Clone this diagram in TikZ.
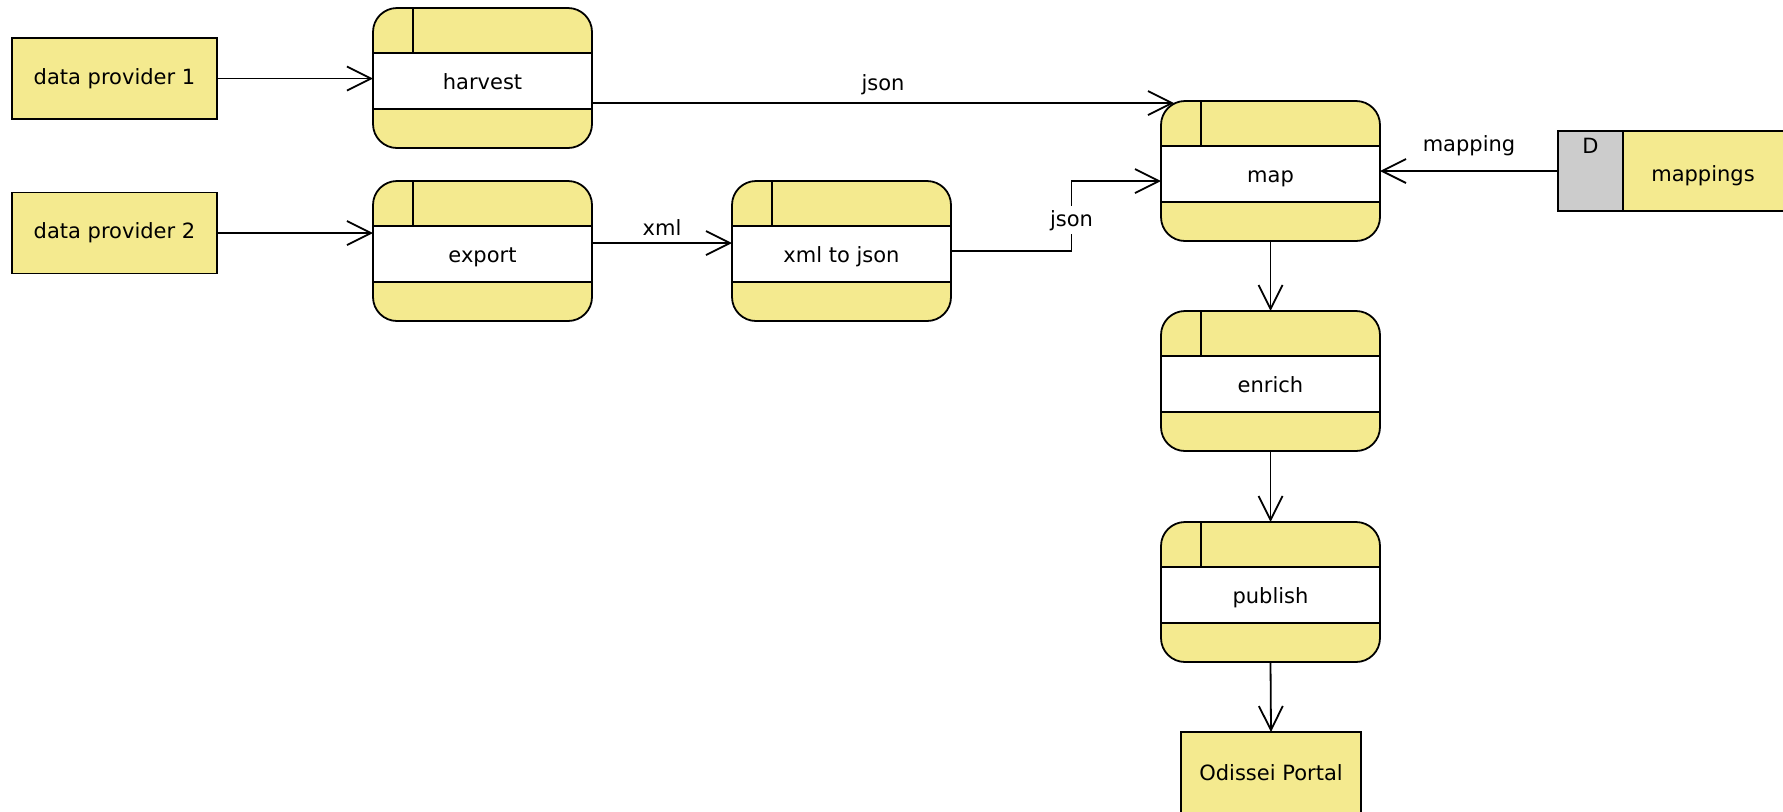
\documentclass[tikz,border=0pt]{standalone}
\usepackage{fontspec}
\setmainfont{DejaVu Sans}
\usetikzlibrary{arrows.meta,positioning}
\definecolor{dfdyellow}{RGB}{244,234,143}
\definecolor{dfdgray}{RGB}{204,204,204}
\tikzset{
  every node/.style={font=\fontsize{10.5}{12}\selectfont},
  entity/.style={draw, fill=dfdyellow, minimum width=102.5pt, minimum height=40.5pt, inner sep=0pt, outer sep=0pt},
  process/.style={draw, fill=dfdyellow, rounded corners=12pt, minimum width=109.5pt, minimum height=70pt,
    inner sep=0pt, outer sep=0pt, text height=11.5pt, text depth=0pt,
    path picture={
      \fill[white, sharp corners] ([yshift=-22.5pt]path picture bounding box.north west)
        rectangle ([yshift=19.5pt]path picture bounding box.south east);
      \draw ([yshift=-22.5pt]path picture bounding box.north west) -- ([yshift=-22.5pt]path picture bounding box.north east);
      \draw ([yshift=19.5pt]path picture bounding box.south west) -- ([yshift=19.5pt]path picture bounding box.south east);
      \draw ([xshift=20pt]path picture bounding box.north west) -- ([xshift=20pt,yshift=-22.5pt]path picture bounding box.north west);
    }},
  flow/.style={draw, -{Straight Barb[length=12pt,width=12pt]}},
  lbl/.style={inner sep=2pt},
}

\begin{document}
\begin{tikzpicture}[x=0.5pt, y=-0.5pt, line width=0.9pt]
  \useasboundingbox (0,0) rectangle (1783,811);

  \node[entity] (provider1) at (114.5,78.5) {data provider 1};
  \node[entity] (provider2) at (114.5,233) {data provider 2};

  \node[process] (harvest) at (482.5,78) {harvest};
  \node[process] (export) at (482.5,251) {export};
  \node[process] (xml) at (841.5,251) {xml to json};
  \node[process] (map) at (1270.5,171) {map};
  \node[process] (enrich) at (1270.5,381) {enrich};
  \node[process] (publish) at (1270.5,592) {publish};

  \node[entity, minimum width=90pt] (portal) at (1271,772.5) {Odissei Portal};

  \node[draw, fill=dfdgray, minimum width=32.5pt, minimum height=40pt, inner sep=0pt, outer sep=0pt,
        label={[anchor=north, inner sep=3pt]north:D}] (mapid) at (1590.5,171) {};
  \node[fill=dfdyellow, minimum width=80pt, minimum height=40pt, inner sep=0pt, outer sep=0pt,
        text height=10pt, text depth=0pt, right=0pt of mapid] (mappings) {mappings};
  \draw (mappings.north east) -- (mappings.north west) -- (mappings.south west) -- (mappings.south east);

  \draw[flow] (provider1.east) -- (provider1.east -| harvest.west);
  \draw[flow] (provider2.east) -- (provider2.east -| export.west);
  \draw[flow] ([yshift=4pt]export.east) -- node[lbl, above=1.5pt] {xml} ([yshift=4pt]xml.west);
  \draw[flow] ([yshift=-12.5pt]harvest.east) -- node[lbl, above=1.5pt] {json} ([shift={(13,2)}]map.north west);
  \draw[flow] (xml.east) -- ++(120.5,0) |- node[pos=0.22, fill=white, inner sep=2pt] {json} ([yshift=-5pt]map.west);
  \draw[flow] (mapid.west) -- node[lbl, above=5pt] {mapping} (map.east);
  \draw[flow] (map.south) -- (enrich.north);
  \draw[flow] (enrich.south) -- (publish.north);
  \draw[flow] (publish.south) -- (portal.north);
\end{tikzpicture}
\end{document}
